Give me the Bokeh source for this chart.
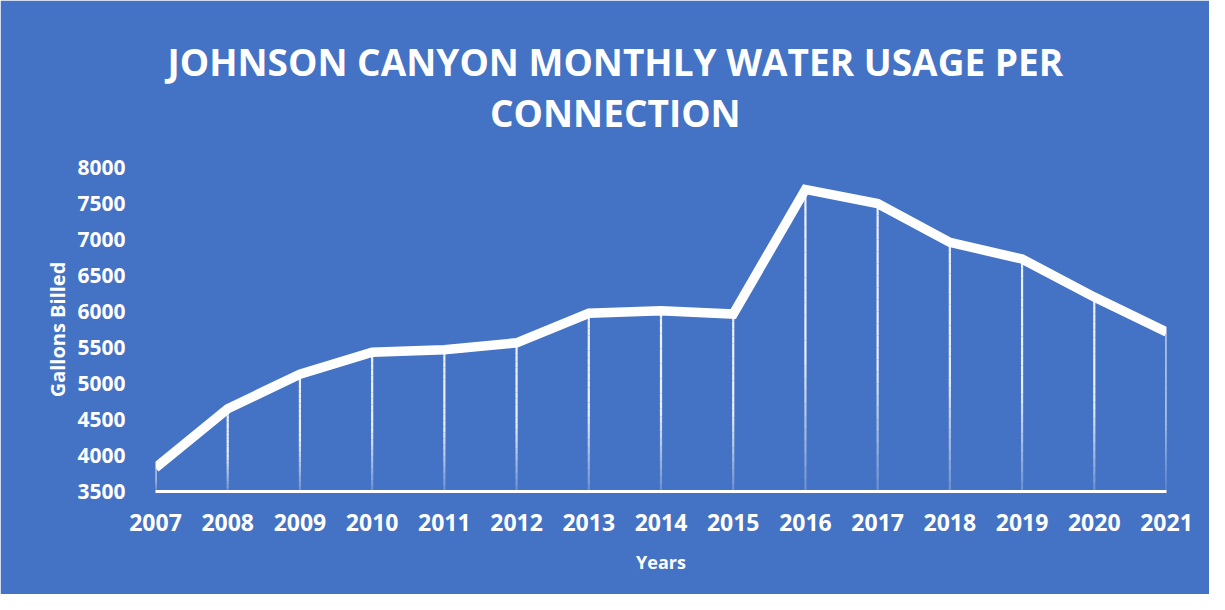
import numpy as np
from bokeh.plotting import figure
from bokeh.models import Range1d, Title, FixedTicker, ColumnDataSource
from bokeh.embed import file_html
from bokeh.resources import INLINE

# ---- data ----
years = [2007, 2008, 2009, 2010, 2011, 2012, 2013, 2014, 2015, 2016, 2017, 2018, 2019, 2020, 2021]
gallons = [3830, 4650, 5130, 5435, 5470, 5565, 5975, 6010, 5965, 7695, 7500, 6960, 6730, 6200, 5715]
y_ticks = [3500, 4000, 4500, 5000, 5500, 6000, 6500, 7000, 7500, 8000]
title_line1 = "JOHNSON CANYON MONTHLY WATER USAGE PER"
title_line2 = "CONNECTION"
x_label = "Years"
y_label = "Gallons Billed"

BG = "#4472C4"
FONT = "Open Sans"

p = figure(width=1209, height=594, output_backend="svg", toolbar_location=None,
           x_range=Range1d(years[0], years[-1]), y_range=Range1d(y_ticks[0], y_ticks[-1]),
           background_fill_color=BG, border_fill_color=BG,
           outline_line_color=BG, outline_line_width=1,
           min_border_left=155, min_border_right=43, min_border_top=167, min_border_bottom=103)

# two-line title (block left edge placed via offset so it is centred on the canvas)
t = Title(text=title_line1 + "\n" + title_line2, align="left", text_align="center",
          vertical_align="top",
          text_color="white", text_font=FONT, text_font_size="37px",
          text_font_style="bold", text_line_height=1.0, standoff=56, offset=12)
p.add_layout(t, "above")

# drop lines with a fade toward the baseline
n = 24
x0, y0, x1, y1, al = [], [], [], [], []
for yr, g in zip(years, gallons):
    edges = np.linspace(y_ticks[0], g, n + 1)
    for i in range(n):
        tt = (i + 0.5) / n
        x0.append(yr); x1.append(yr)
        y0.append(edges[i]); y1.append(edges[i + 1])
        al.append(0.2 + 0.7 * min(1.0, tt / 0.45))
drop_src = ColumnDataSource(dict(x0=x0, y0=y0, x1=x1, y1=y1, alpha=al))
p.segment(x0="x0", y0="y0", x1="x1", y1="y1", source=drop_src,
          line_color="white", line_alpha="alpha", line_width=2.2)

# main line
p.line(years, gallons, line_color="white", line_width=9.5, line_join="miter")

# axes
p.grid.visible = False
p.xaxis.ticker = FixedTicker(ticks=years)
p.xaxis.major_tick_line_color = None
p.xaxis.minor_tick_line_color = None
p.xaxis.axis_line_color = "white"
p.xaxis.axis_line_width = 3
p.xaxis.major_label_text_color = "white"
p.xaxis.major_label_text_font = FONT
p.xaxis.major_label_text_font_style = "bold"
p.xaxis.major_label_text_font_size = "23px"
p.xaxis.major_label_standoff = 16
p.xaxis.axis_label = x_label
p.xaxis.axis_label_text_color = "white"
p.xaxis.axis_label_text_font = FONT
p.xaxis.axis_label_text_font_style = "bold"
p.xaxis.axis_label_text_font_size = "18px"
p.xaxis.axis_label_standoff = 16

p.yaxis.ticker = FixedTicker(ticks=y_ticks)
p.yaxis.major_tick_line_color = None
p.yaxis.minor_tick_line_color = None
p.yaxis.axis_line_color = None
p.yaxis.major_label_text_color = "white"
p.yaxis.major_label_text_font = FONT
p.yaxis.major_label_text_font_style = "bold"
p.yaxis.major_label_text_font_size = "21px"
p.yaxis.major_label_standoff = 24
p.yaxis.axis_label = y_label
p.yaxis.axis_label_text_color = "white"
p.yaxis.axis_label_text_font = FONT
p.yaxis.axis_label_text_font_style = "bold"
p.yaxis.axis_label_text_font_size = "20px"
p.yaxis.axis_label_standoff = 3

open("out.html", "w").write(file_html(p, INLINE))
